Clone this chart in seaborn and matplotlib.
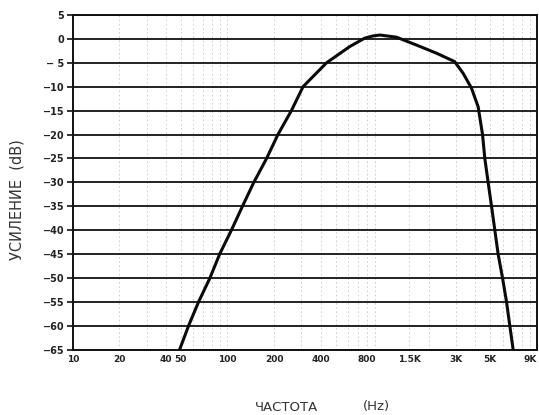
import numpy as np
import pandas as pd
import matplotlib
matplotlib.use("Agg")
import matplotlib.pyplot as plt
from matplotlib.ticker import FixedLocator, LogLocator, NullFormatter
import seaborn as sns

# frequency response
freq_hz = [49, 56, 65, 77, 89, 106, 125, 148, 179, 212, 259, 308, 437, 618,
           771, 870, 966, 1238, 1668, 2246, 2940, 3338, 3780, 4174, 4456,
           4610, 4843, 5095, 5352, 5620, 6003, 6370, 6690, 7030]
gain_db = [-65, -60, -55, -50, -45, -40, -35, -30, -25, -20, -15, -10, -5, -1.6,
           0.15, 0.6, 0.8, 0.35, -1.3, -3.0, -4.75, -7.2, -10.3, -14.2, -20,
           -25, -30, -35, -40, -45, -50, -55, -60, -65]

x_ticks = [10, 20, 40, 50, 100, 200, 400, 800, 1500, 3000, 5000, 9000]
x_tick_labels = ["10", "20", "40", "50", "100", "200", "400", "800",
                 "1.5K", "3K", "5K", "9K"]
y_ticks = list(range(5, -70, -5))
y_tick_labels = ["5", "0", "\u2212 5"] + [f"\u2212{abs(v)}" for v in y_ticks[3:]]

sns.set_style("white")
plt.rcParams["font.family"] = ["DejaVu Sans"]

df = pd.DataFrame({"freq": freq_hz, "gain": gain_db})

fig = plt.figure(figsize=(5.39, 4.15), dpi=100)
ax = fig.add_axes([0.135, 0.157, 0.861, 0.807])

ax.set_xscale("log")
ax.set_xlim(10, 10000)
ax.set_ylim(-65, 5)

# faint vertical rulings like the printed log paper
ax.xaxis.set_minor_locator(LogLocator(base=10, subs=np.arange(2, 10)))
ax.xaxis.set_minor_formatter(NullFormatter())
ax.grid(True, axis="x", which="both", color="#9a9a9a", lw=0.6, ls=(0, (2, 3)), alpha=0.55)

# heavy horizontal lines every 5 dB
for v in y_ticks:
    ax.axhline(v, color="#111111", lw=1.3, zorder=1)

sns.lineplot(data=df, x="freq", y="gain", ax=ax, color="#0a0a0a", lw=2.2,
             sort=False, zorder=3)

ax.xaxis.set_major_locator(FixedLocator(x_ticks))
ax.set_xticklabels(x_tick_labels, fontsize=6.5, fontweight="bold", color="#222222")
ax.set_yticks(y_ticks)
ax.set_yticklabels(y_tick_labels, fontsize=7, fontweight="bold", color="#222222")
ax.tick_params(axis="x", which="major", length=0, pad=4)
ax.tick_params(axis="x", which="minor", length=0)
ax.tick_params(axis="y", length=4, width=1.2, color="#111111", pad=2, left=True)

for s in ax.spines.values():
    s.set_color("#111111")
    s.set_linewidth(1.4)

ax.set_ylabel("УСИЛЕНИЕ  (dB)", fontsize=10.5, color="#333333")
ax.yaxis.set_label_coords(-0.105, 0.45)
ax.set_xlabel("")
fig.text(287 / 539, 1 - 411 / 415, "ЧАСТОТА", fontsize=9.5, color="#333333",
         ha="center", va="baseline")
fig.text(376 / 539, 1 - 410 / 415, "(Hz)", fontsize=9.5, color="#333333",
         ha="center", va="baseline")

fig.savefig("out.png", dpi=100)
